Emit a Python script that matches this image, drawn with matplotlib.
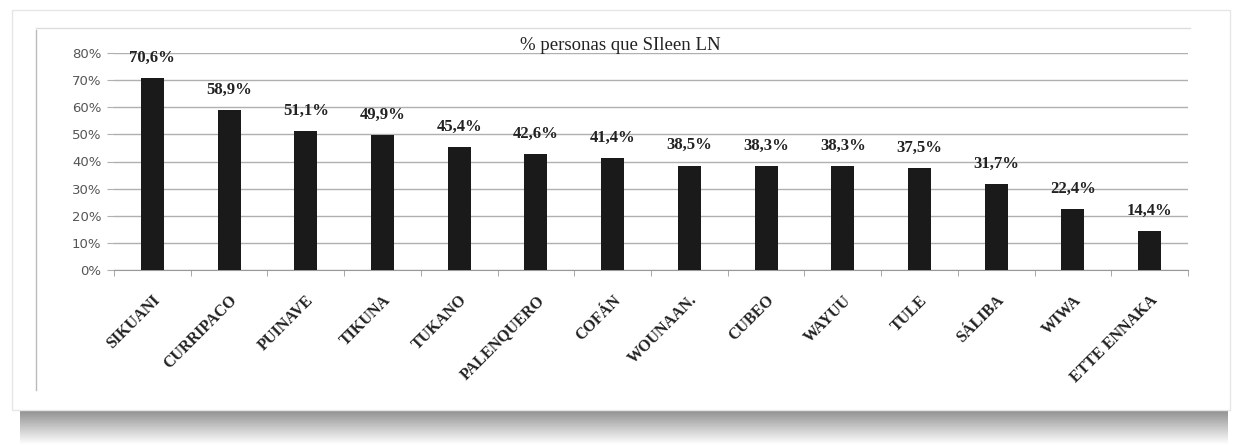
import numpy as np
import matplotlib
matplotlib.use("Agg")
import matplotlib.pyplot as plt
import matplotlib.ticker as tic
from matplotlib.patches import Rectangle

# data
grupos = ["SIKUANI", "CURRIPACO", "PUINAVE", "TIKUNA", "TUKANO", "PALENQUERO",
          "COFÁN", "WOUNAAN.", "CUBEO", "WAYUU", "TULE", "SÁLIBA", "WIWA",
          "ETTE ENNAKA"]
valores = [70.6, 58.9, 51.1, 49.9, 45.4, 42.6, 41.4, 38.5, 38.3, 38.3, 37.5,
           31.7, 22.4, 14.4]
etiquetas = ["70,6%", "58,9%", "51,1%", "49,9%", "45,4%", "42,6%", "41,4%",
             "38,5%", "38,3%", "38,3%", "37,5%", "31,7%", "22,4%", "14,4%"]
titulo = "% personas que SIleen LN"

fig = plt.figure(figsize=(12.41, 4.47), dpi=100)
W, H = 1241, 447

# background: framed panel with a soft shadow below
bg = fig.add_axes([0, 0, 1, 1])
bg.set_xlim(0, W)
bg.set_ylim(H, 0)
bg.axis("off")
shade = np.concatenate([np.linspace(0.5, 1.0, 40)[:, None]] * 2, axis=1)
bg.imshow(shade, cmap="gray", vmin=0, vmax=1, extent=[20, 1228, 445, 405],
          aspect="auto", zorder=0)
bg.add_patch(Rectangle((12, 10), 1218, 400, facecolor="white",
                       edgecolor="#e6e6e6", lw=1, zorder=1))
bg.plot([36, 36], [30, 390], color="#bbbbbb", lw=1, zorder=2)
bg.plot([36, 1190], [28, 28], color="#dddddd", lw=1, zorder=2)

ax = fig.add_axes([114 / W, 1 - 270 / H, (1188 - 114) / W, (270 - 53) / H])
ax.set_facecolor("none")
x = np.arange(len(grupos))
ax.bar(x, valores, width=0.3, color="#1a1a1a", zorder=3)
for xi, v, lab in zip(x, valores, etiquetas):
    ax.text(xi, v + 4.5, lab, ha="center", va="bottom", fontsize=12,
            fontweight="bold", family="Liberation Serif", color="#222222")

ax.set_xlim(-0.5, len(grupos) - 0.5)
ax.set_ylim(0, 80)
ax.yaxis.set_major_locator(tic.MultipleLocator(10))
ax.yaxis.set_major_formatter(tic.FuncFormatter(lambda v, p: "%d%%" % v))
ax.grid(axis="y", color="#b0b0b0", lw=1, zorder=0)
for s in ["top", "right"]:
    ax.spines[s].set_visible(False)
ax.spines["left"].set_visible(False)
ax.spines["bottom"].set_color("#999999")
ax.tick_params(axis="y", length=5, color="#b0b0b0", labelsize=9.5,
               labelcolor="#555555", pad=4)
ax.set_xticks(x)
ax.set_xticklabels(grupos, rotation=45, ha="right", rotation_mode="anchor",
                   fontsize=11.5, fontweight="bold", family="Liberation Serif",
                   color="#222222")
ax.tick_params(axis="x", length=0, pad=16)
ax.set_xticks(np.arange(len(grupos) + 1) - 0.5, minor=True)
ax.tick_params(axis="x", which="minor", length=4, color="#999999")

fig.text(620 / W, 1 - 45 / H, titulo, ha="center", va="center", fontsize=13.5,
         family="Liberation Serif", color="#222222")

fig.savefig("out.png", dpi=100)
